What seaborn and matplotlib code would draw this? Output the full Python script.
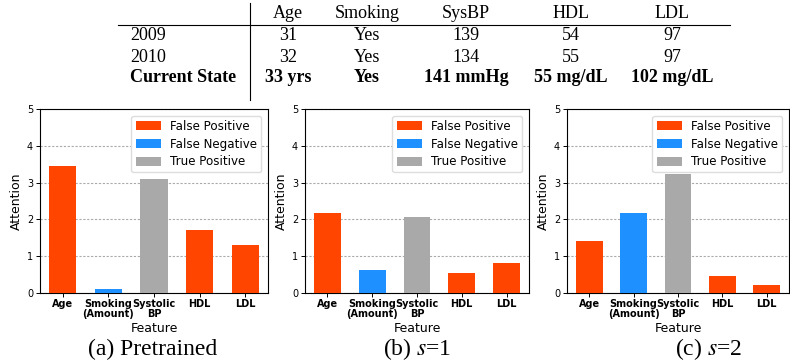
import matplotlib
matplotlib.use("Agg")
import matplotlib.pyplot as plt
from matplotlib.lines import Line2D
import seaborn as sns
import pandas as pd

# table on top
col_names = ["Age", "Smoking", "SysBP", "HDL", "LDL"]
row_names = ["2009", "2010", "Current State"]
row_2009 = ["31", "Yes", "139", "54", "97"]
row_2010 = ["32", "Yes", "134", "55", "97"]
row_now = ["33 yrs", "Yes", "141 mmHg", "55 mg/dL", "102 mg/dL"]

# bar charts
features = ["Age", "Smoking\n(Amount)", "Systolic\nBP", "HDL", "LDL"]
outcome = ["False Positive", "False Negative", "True Positive", "False Positive", "False Positive"]
att_pretrained = [3.46, 0.11, 3.10, 1.71, 1.31]
att_s1 = [2.18, 0.63, 2.07, 0.55, 0.82]
att_s2 = [1.42, 2.18, 3.23, 0.46, 0.22]
captions = ["(a) Pretrained", "(b) $s$=1", "(c) $s$=2"]

hue_order = ["False Positive", "False Negative", "True Positive"]
palette = {"False Positive": "#FF4500", "False Negative": "#1E90FF", "True Positive": "#A9A9A9"}

plt.rcParams["mathtext.fontset"] = "stix"
serif = ["Liberation Serif", "DejaVu Serif"]

fig = plt.figure(figsize=(7.9, 3.64), dpi=100)
W, H = 790.0, 364.0

# table text
col_x = [288, 367, 466, 571, 672]
row_y = [36, 57, 77]
for name, x in zip(col_names, col_x):
    fig.text(x / W, 1 - 14 / H, name, ha="center", va="center", family=serif, fontsize=13)
rows = [row_2009, row_2010, row_now]
for i, (label, vals) in enumerate(zip(row_names, rows)):
    bold = "bold" if i == 2 else "normal"
    fig.text(130 / W, 1 - row_y[i] / H, label, ha="left", va="center", family=serif,
             fontsize=13, fontweight=bold)
    for x, v in zip(col_x, vals):
        fig.text(x / W, 1 - row_y[i] / H, v, ha="center", va="center", family=serif,
                 fontsize=13, fontweight=bold)
fig.add_artist(Line2D([118 / W, 730 / W], [1 - 25 / H, 1 - 25 / H], color="black", lw=0.8))
fig.add_artist(Line2D([250 / W, 250 / W], [1 - 3 / H, 1 - 100 / H], color="black", lw=0.8))

lefts = [40, 305, 567]
widths = [228, 224, 222]
caption_x = [153, 417, 709]
for k, vals in enumerate([att_pretrained, att_s1, att_s2]):
    ax = fig.add_axes([lefts[k] / W, 1 - 293 / H, widths[k] / W, 184 / H])
    df = pd.DataFrame({"Feature": features, "Attention": vals, "Outcome": outcome})
    sns.barplot(data=df, x="Feature", y="Attention", hue="Outcome", hue_order=hue_order,
                palette=palette, dodge=False, width=0.6, errorbar=None, saturation=1,
                ax=ax, zorder=3)
    ax.set_ylim(0, 5)
    ax.set_yticks([0, 1, 2, 3, 4, 5])
    ax.yaxis.grid(True, linestyle=(0, (2, 1.5)), color="#aaaaaa", linewidth=0.8, zorder=0)
    ax.set_axisbelow(True)
    ax.tick_params(axis="y", labelsize=7, length=3, width=0.7, pad=2)
    ax.tick_params(axis="x", length=3, width=0.7, pad=1.5)
    for t in ax.get_xticklabels():
        t.set_fontsize(7)
        t.set_fontweight("bold")
        t.set_linespacing(0.95)
    ax.set_xlabel("Feature", fontsize=9, labelpad=2.5)
    ax.set_ylabel("Attention", fontsize=9, labelpad=3)
    for s in ax.spines.values():
        s.set_linewidth(0.8)
    ax.legend(loc="upper right", fontsize=8.6, handlelength=2.1, handleheight=0.75,
              framealpha=1, edgecolor="#dddddd", borderpad=0.35, labelspacing=0.4,
              borderaxespad=0.55)
    fig.text(caption_x[k] / W, 1 - 349 / H, captions[k], ha="center", va="center",
             family=serif, fontsize=17)

fig.savefig("out.png", dpi=100)
